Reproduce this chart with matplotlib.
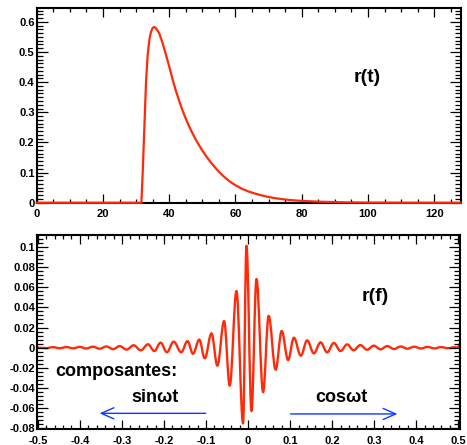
import matplotlib
matplotlib.use("Agg")
import matplotlib.pyplot as plt
from matplotlib.path import Path
from matplotlib.patches import PathPatch
from matplotlib.ticker import MultipleLocator, FuncFormatter

# ---- data: top panel r(t) ----
t_vals = [0, 31.6, 32, 32.5, 33, 33.5, 34, 34.5, 35, 35.5, 36, 37, 38, 39, 40,
          41, 42, 43, 44, 45, 46, 47, 48, 49, 50, 51, 52, 53, 54, 55, 56, 57,
          58, 59, 60, 62, 64, 66, 68, 70, 72, 74, 76, 78, 80, 85, 90, 95, 100,
          110, 128]
r_t = [0, 0, 0.10, 0.25, 0.40, 0.49, 0.54, 0.567, 0.58, 0.583, 0.579, 0.562,
       0.53, 0.492, 0.452, 0.41, 0.372, 0.338, 0.307, 0.279, 0.254, 0.231,
       0.210, 0.191, 0.173, 0.157, 0.142, 0.128, 0.115, 0.103, 0.092, 0.082,
       0.073, 0.065, 0.058, 0.046, 0.037, 0.030, 0.024, 0.019, 0.015, 0.012,
       0.0095, 0.0075, 0.006, 0.0034, 0.0019, 0.001, 0.0005, 0.0001, 0]

# ---- data: bottom panel r(f) (successive extrema) ----
f_vals = [-0.500, -0.480, -0.464, -0.448, -0.432, -0.416, -0.400, -0.385,
          -0.369, -0.353, -0.337, -0.321, -0.305, -0.289, -0.272, -0.255,
          -0.238, -0.223, -0.208, -0.193, -0.177, -0.159, -0.144, -0.131,
          -0.116, -0.103, -0.087, -0.073, -0.057, -0.0436, -0.0276, -0.0119,
          -0.0038, 0.0081, 0.020, 0.0357, 0.049, 0.0655, 0.080, 0.0952, 0.109,
          0.1255, 0.1405, 0.1564, 0.1724, 0.188, 0.204, 0.220, 0.2357, 0.251,
          0.267, 0.283, 0.299, 0.315, 0.331, 0.347, 0.363, 0.379, 0.395, 0.411,
          0.427, 0.443, 0.459, 0.475, 0.491, 0.499, 0.504]
r_f = [0.0, -0.0004, 0.0005, -0.0005, 0.0006, -0.0006, 0.0008, -0.0008,
       0.0010, -0.0010, 0.0012, -0.0014, 0.0016, -0.0019, 0.0024, -0.0026,
       0.0034, -0.0033, 0.0050, -0.0045, 0.0060, -0.0045, 0.0065, -0.0060,
       0.0080, -0.0105, 0.0142, -0.0178, 0.0264, -0.0376, 0.0561, -0.0749,
       0.101, -0.0627, 0.068, -0.044, 0.0315, -0.0218, 0.0165, -0.0122, 0.0099,
       -0.0079, 0.0073, -0.0056, 0.0053, -0.0046, 0.0047, -0.0033, 0.0033,
       -0.0026, 0.0026, -0.0020, 0.0020, -0.0016, 0.0016, -0.0013, 0.0012,
       -0.0010, 0.0010, -0.0008, 0.0008, -0.0007, 0.0006, -0.0005, 0.0005,
       0.0, 0.004]

RED = "#ff2a0a"
BLUE = "#1038ff"
FONT = "Liberation Sans"

plt.rcParams["font.family"] = [FONT, "DejaVu Sans"]
plt.rcParams["font.weight"] = "bold"

fig = plt.figure(figsize=(4.67, 4.45), dpi=100)
ax1 = fig.add_axes([0.0786, 0.5445, 0.9079, 0.4368])
ax2 = fig.add_axes([0.0792, 0.0353, 0.9058, 0.4366])


def _fmt(v, p):
    v = round(v, 6)
    if v == 0:
        return "0"
    return f"{v:g}"


fmt = FuncFormatter(_fmt)


def style(ax, xmaj, xmin, ymaj, ymin):
    ax.xaxis.set_major_locator(MultipleLocator(xmaj))
    ax.xaxis.set_minor_locator(MultipleLocator(xmin))
    ax.yaxis.set_major_locator(MultipleLocator(ymaj))
    ax.yaxis.set_minor_locator(MultipleLocator(ymin))
    ax.xaxis.set_major_formatter(fmt)
    ax.yaxis.set_major_formatter(fmt)
    for s in ax.spines.values():
        s.set_linewidth(1.5)
    ax.tick_params(which="both", direction="in", top=True, right=True,
                   labelsize=8, width=0.9)
    ax.tick_params(axis="x", which="major", length=6.5, pad=4.5)
    ax.tick_params(axis="x", which="minor", length=3.2)
    ax.tick_params(axis="y", which="major", length=8, pad=1.5)
    ax.tick_params(axis="y", which="minor", length=4)


def smooth_path(xs, ys, k=0.3634):
    """Curve through successive extrema with horizontal tangents there."""
    verts = [(xs[0], ys[0])]
    codes = [Path.MOVETO]
    for i in range(len(xs) - 1):
        dx = xs[i + 1] - xs[i]
        verts += [(xs[i] + k * dx, ys[i]), (xs[i + 1] - k * dx, ys[i + 1]),
                  (xs[i + 1], ys[i + 1])]
        codes += [Path.CURVE4] * 3
    return Path(verts, codes)


# top panel
ax1.plot(t_vals, r_t, color=RED, lw=1.6, solid_joinstyle="round",
         zorder=3, clip_on=False)
ax1.set_xlim(0, 128)
ax1.set_ylim(0, 0.645)
style(ax1, 20, 5, 0.1, 0.0125)
ax1.text(99.7, 0.417, "r(t)", fontsize=14, fontweight="bold",
         ha="center", va="center")

# bottom panel
ax2.add_patch(PathPatch(smooth_path(f_vals, r_f), facecolor="none",
                        edgecolor=RED, lw=1.7, joinstyle="round",
                        capstyle="round"))
ax2.set_xlim(-0.502, 0.504)
ax2.set_ylim(-0.0808, 0.1116)
style(ax2, 0.1, 0.02, 0.02, 0.004)
ax2.text(0.302, 0.0505, "r(f)", fontsize=14, fontweight="bold",
         ha="center", va="center")
ax2.text(-0.314, -0.0237, "composantes:", fontsize=13, fontweight="bold",
         ha="center", va="center")
ax2.text(-0.222, -0.0495, "sinωt", fontsize=13, fontweight="bold",
         ha="center", va="center")
ax2.text(0.222, -0.0491, "cosωt", fontsize=13, fontweight="bold",
         ha="center", va="center")

arrow = dict(arrowstyle="->,head_length=0.9,head_width=0.4", color=BLUE,
             lw=1.0, mutation_scale=10, shrinkA=0, shrinkB=0)
ax2.annotate("", xy=(-0.353, -0.065), xytext=(-0.1007, -0.065),
             arrowprops=arrow)
ax2.annotate("", xy=(0.355, -0.0656), xytext=(0.101, -0.0656),
             arrowprops=arrow)

fig.savefig("out.png", dpi=100)
